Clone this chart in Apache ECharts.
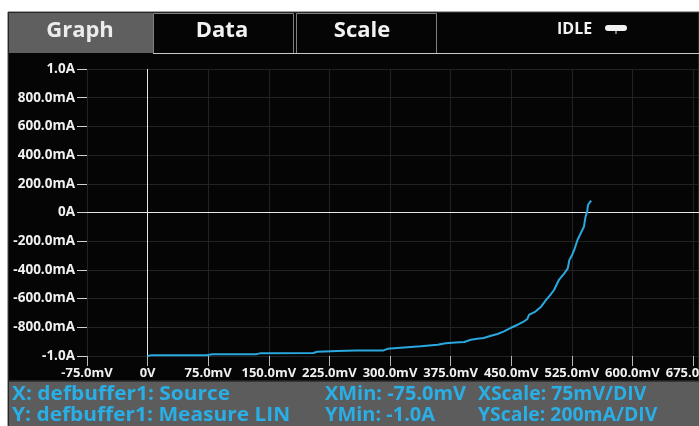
<!DOCTYPE html>
<html>
<head>
<meta charset="utf-8">
<script src="https://cdn.jsdelivr.net/npm/echarts@6/dist/echarts.min.js"></script>
<style>
  html, body { margin: 0; padding: 0; background: #ffffff; }
  #chart { width: 699px; height: 426px; }
</style>
</head>
<body>
<div id="chart"></div>
<script>
// Sweep: source voltage (mV) against measured current (A)
const sourceMv = [
  0, 5, 73, 80, 135, 140, 205, 210, 235, 257, 292, 297, 309, 338, 359, 369,
  381, 392, 400, 408, 416, 425, 433, 441, 449, 458, 466, 470, 472, 480, 487,
  493, 498, 503, 509, 515, 520, 522, 525, 528, 532, 536, 540, 542, 544, 545,
  547, 549
];
const measureA = [
  -1.000, -0.994, -0.994, -0.988, -0.987, -0.980, -0.979, -0.970, -0.965,
  -0.962, -0.961, -0.950, -0.944, -0.932, -0.922, -0.911, -0.906, -0.902,
  -0.887, -0.880, -0.875, -0.859, -0.847, -0.828, -0.805, -0.782, -0.758,
  -0.742, -0.714, -0.690, -0.656, -0.610, -0.578, -0.540, -0.470, -0.430,
  -0.389, -0.331, -0.300, -0.261, -0.192, -0.145, -0.099, -0.029, 0.006,
  0.052, 0.070, 0.082
];

// Axis ticks and their printed labels
const xTickValues = [-75, 0, 75, 150, 225, 300, 375, 450, 525, 600, 675];
const xTickLabels = ['-75.0mV', '0V', '75.0mV', '150.0mV', '225.0mV', '300.0mV',
  '375.0mV', '450.0mV', '525.0mV', '600.0mV', '675.0mV'];
const yTickValues = [-1.0, -0.8, -0.6, -0.4, -0.2, 0, 0.2, 0.4, 0.6, 0.8, 1.0];
const yTickLabels = ['-1.0A', '-800.0mA', '-600.0mA', '-400.0mA', '-200.0mA', '0A',
  '200.0mA', '400.0mA', '600.0mA', '800.0mA', '1.0A'];

// Screen chrome texts
const tabNames = ['Graph', 'Data', 'Scale'];
const statusText = 'IDLE';
const infoLeft = ['X: defbuffer1: Source', 'Y: defbuffer1: Measure LIN'];
const infoMin = ['XMin: -75.0mV', 'YMin: -1.0A'];
const infoScale = ['XScale: 75mV/DIV', 'YScale: 200mA/DIV'];

const FONT = '"Open Sans", "Noto Sans", sans-serif';
const CYAN = '#2aaee6';

function labelFor(values, labels, v) {
  for (let i = 0; i < values.length; i++) {
    if (Math.abs(values[i] - v) < 1e-6) return labels[i];
  }
  return '';
}

const chart = echarts.init(document.getElementById('chart'), null, { renderer: 'canvas' });

const points = sourceMv.map((v, i) => [v, measureA[i]]);

const graphics = [
  // instrument screen body
  { type: 'rect', z: -10, silent: true,
    shape: { x: 8, y: 12, width: 691, height: 414 },
    style: { fill: '#050505', stroke: '#4a4a4a', lineWidth: 1 } },
  // tab strip
  { type: 'rect', z: -9, silent: true,
    shape: { x: 9, y: 13, width: 144, height: 40 },
    style: { fill: '#5f5f5f' } },
  { type: 'rect', z: -9, silent: true,
    shape: { x: 153.5, y: 13.5, width: 140, height: 40 },
    style: { fill: 'none', stroke: '#808080', lineWidth: 1 } },
  { type: 'rect', z: -9, silent: true,
    shape: { x: 296.5, y: 13.5, width: 140, height: 40 },
    style: { fill: 'none', stroke: '#808080', lineWidth: 1 } },
  { type: 'line', z: -8, silent: true,
    shape: { x1: 153, y1: 53.5, x2: 699, y2: 53.5 },
    style: { stroke: '#c8c8c8', lineWidth: 1.2 } },
  { type: 'text', z: 50, silent: true,
    style: { text: tabNames[0], x: 80, y: 31, align: 'center', verticalAlign: 'middle',
      font: 'bold 22px ' + FONT, fill: '#ececec' } },
  { type: 'text', z: 50, silent: true,
    style: { text: tabNames[1], x: 222, y: 31, align: 'center', verticalAlign: 'middle',
      font: 'bold 22px ' + FONT, fill: '#f2f2f2' } },
  { type: 'text', z: 50, silent: true,
    style: { text: tabNames[2], x: 362, y: 31, align: 'center', verticalAlign: 'middle',
      font: 'bold 22px ' + FONT, fill: '#f2f2f2' } },
  // status indicator
  { type: 'text', z: 50, silent: true,
    style: { text: statusText, x: 557, y: 29, align: 'left', verticalAlign: 'middle',
      font: 'bold 16px ' + FONT, fill: '#f2f2f2' } },
  { type: 'rect', z: 50, silent: true,
    shape: { x: 605, y: 25, width: 22, height: 6, r: 3 },
    style: { fill: '#f0f0f0' } },
  { type: 'line', z: 50, silent: true,
    shape: { x1: 616, y1: 31, x2: 616, y2: 34 },
    style: { stroke: '#f0f0f0', lineWidth: 1 } },
  // info bar
  { type: 'rect', z: -9, silent: true,
    shape: { x: 9, y: 381, width: 690, height: 45 },
    style: { fill: '#5c5c5c' } },
  { type: 'line', z: -8, silent: true,
    shape: { x1: 9, y1: 381, x2: 699, y2: 381 },
    style: { stroke: '#2a2a2a', lineWidth: 1.5 } }
];

const rowY = [395, 416];
const colX = [12, 325, 478];
const colStretch = [1.1, 1.05, 1.02];
const infoCols = [infoLeft, infoMin, infoScale];
for (let r = 0; r < 2; r++) {
  for (let c = 0; c < 3; c++) {
    graphics.push({ type: 'text', z: 50, silent: true,
      x: colX[c], y: rowY[r], scaleX: colStretch[c],
      style: { text: infoCols[c][r], x: 0, y: 0, verticalAlign: 'middle',
        font: 'bold 19px ' + FONT, fill: CYAN } });
  }
}

const option = {
  backgroundColor: '#ffffff',
  animation: false,
  graphic: graphics,
  grid: { left: 87, right: 0, top: 69, bottom: 70, containLabel: false,
    outerBoundsMode: 'none' },
  xAxis: {
    type: 'value',
    min: -75,
    max: 682.4,
    interval: 75,
    axisLine: { show: true, onZero: false, lineStyle: { color: 'rgba(0,0,0,0)' } },
    axisTick: { show: true, inside: false, length: 10,
      customValues: xTickValues,
      lineStyle: { color: '#b8b8b8', width: 1 } },
    splitLine: { show: true, lineStyle: { color: '#222222', width: 1 } },
    axisLabel: {
      customValues: xTickValues,
      margin: 11,
      color: '#f0f0f0',
      fontFamily: FONT,
      fontWeight: 'bold',
      fontSize: 13,
      hideOverlap: false,
      formatter: v => labelFor(xTickValues, xTickLabels, v)
    }
  },
  yAxis: {
    type: 'value',
    min: -1.0,
    max: 1.0,
    interval: 0.2,
    axisLine: { show: true, onZero: false, lineStyle: { color: 'rgba(0,0,0,0)' } },
    axisTick: { show: true, inside: false, length: 10,
      lineStyle: { color: '#d0d0d0', width: 1 } },
    splitLine: { show: true, lineStyle: { color: '#222222', width: 1 } },
    axisLabel: {
      margin: 12,
      color: '#f0f0f0',
      fontFamily: FONT,
      fontWeight: 'bold',
      fontSize: 13.5,
      formatter: v => labelFor(yTickValues, yTickLabels, v)
    }
  },
  series: [{
    type: 'line',
    data: points,
    showSymbol: false,
    symbol: 'none',
    lineStyle: { color: '#29a9df', width: 2 },
    z: 5,
    markLine: {
      silent: true,
      symbol: 'none',
      label: { show: false },
      lineStyle: { color: '#e8e8e8', width: 1, type: 'solid' },
      data: [{ xAxis: 0 }, { yAxis: 0 }],
      z: 3
    }
  }]
};

chart.setOption(option);
</script>
</body>
</html>
